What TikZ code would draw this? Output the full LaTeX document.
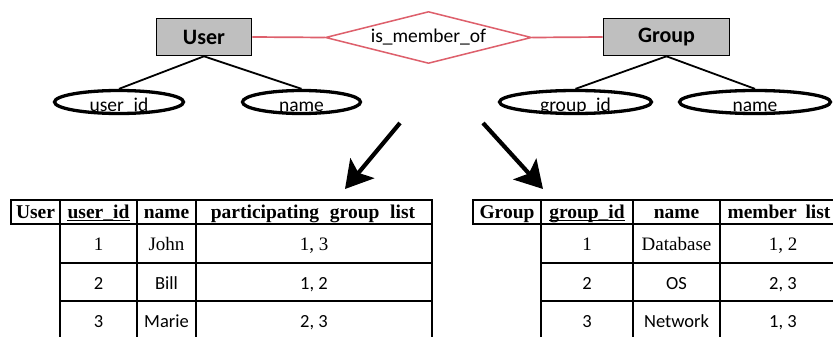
\documentclass[tikz,border=0pt]{standalone}
\usepackage{fontspec}
\setmainfont{Liberation Serif}
\newfontfamily\calfont{Carlito}
\usetikzlibrary{shapes.geometric,arrows.meta}
\definecolor{erred}{RGB}{222,96,108}
\definecolor{boxgray}{RGB}{191,191,191}
\begin{document}
\begin{tikzpicture}[x=1pt,y=-1pt,
  entity/.style={draw=black,line width=1.6pt,fill=boxgray,minimum height=37pt,inner sep=0pt,
    font=\calfont\fontsize{22}{24}\selectfont\bfseries},
  relation/.style={draw=erred,line width=1.5pt,diamond,shape aspect=3.9,inner sep=0pt,
    minimum width=206pt,minimum height=52pt,font=\calfont\fontsize{19.5}{22}\selectfont},
  attr/.style={draw=black,line width=3.3pt,ellipse,inner sep=0pt,minimum height=23pt},
  attrtext/.style={anchor=base,inner sep=0pt,font=\calfont\fontsize{19.5}{22}\selectfont},
  erline/.style={line width=1.8pt,draw=black},
  relline/.style={line width=1.7pt,draw=erred},
  bigarrow/.style={line width=4.2pt,-{Stealth[length=27pt,width=31pt,inset=6pt]}},
  grid/.style={line width=1.9pt},
  ul/.style={line width=1.3pt},
  hd/.style={anchor=base,inner sep=0pt,font=\fontsize{19.5}{22}\selectfont\bfseries},
  sr/.style={anchor=base,inner sep=0pt,font=\fontsize{19}{22}\selectfont},
  ss/.style={anchor=base,inner sep=0pt,font=\calfont\fontsize{18.5}{22}\selectfont}
]
\clip (0,0) rectangle (833,337);
\fill[white] (0,0) rectangle (833,337);

% ER part
\node[entity,minimum width=95pt] (user) at (204,37) {User};
\node[entity,minimum width=126pt] (group) at (666.5,37) {Group};
\node[relation] (rel) at (428.5,37.5) {is\_member\_of};
\draw[relline] (user.east) -- (rel.west);
\draw[relline] (rel.east) -- (group.west);

\node[attr,minimum width=129pt] (uid) at (119,102) {};
\node[attr,minimum width=118pt] (uname) at (301.5,102) {};
\node[attr,minimum width=152pt] (gid) at (575.5,102) {};
\node[attr,minimum width=151pt] (gname) at (755,102) {};
\node[attrtext] (uidt) at (119,111.5) {user\_id};
\node[attrtext] (unamet) at (301.5,111.5) {name};
\node[attrtext] (gidt) at (575.5,111.5) {group\_id};
\node[attrtext] (gnamet) at (755,111.5) {name};
\draw[erline] (user.south) -- (uid.north);
\draw[erline] (user.south) -- (uname.north);
\draw[erline] (group.south) -- (gid.north);
\draw[erline] (group.south) -- (gname.north);

% arrows
\coordinate (a1s) at (400,123);
\coordinate (a1e) at (345,189);
\coordinate (a2s) at (483,123);
\coordinate (a2e) at (543,189);
\draw[bigarrow] (a1s) -- (a1e);
\draw[bigarrow] (a2s) -- (a2e);

% left table
\draw[grid] (11,200) rectangle (432,224);
\draw[grid] (60,200) -- (60,345);
\draw[grid] (137,200) -- (137,345);
\draw[grid] (196,200) -- (196,345);
\draw[grid] (432,224) -- (432,345);
\draw[grid] (60,263) -- (432,263);
\draw[grid] (60,301) -- (432,301);

\node[hd] (h1) at (35.5,218) {User};
\node[hd] (h2) at (98.5,218) {user\_id};
\draw[ul] ([yshift=-2.5pt]h2.base west) -- ([yshift=-2.5pt]h2.base east);
\node[hd] (h3) at (166.5,218) {name};
\node[hd] (h4) at (313,218) {participating\hspace{.3em} group\hspace{.3em} list};

\node[sr] (l11) at (98.5,250) {1};
\node[sr] (l12) at (166.5,250) {John};
\node[sr] (l13) at (314,250) {1, 3};
\node[ss] (l21) at (98.5,289) {2};
\node[ss] (l22) at (166.5,289) {Bill};
\node[ss] (l23) at (314,289) {1, 2};
\node[ss] (l31) at (98.5,327) {3};
\node[ss] (l32) at (166.5,327) {Marie};
\node[ss] (l33) at (314,327) {2, 3};

% right table
\draw[grid] (473,200) rectangle (860,224);
\draw[grid] (541,200) -- (541,345);
\draw[grid] (633,200) -- (633,345);
\draw[grid] (720,200) -- (720,345);
\draw[grid] (541,263) -- (860,263);
\draw[grid] (541,301) -- (860,301);

\node[hd] (g1) at (507,218) {Group};
\node[hd] (g2) at (587,218) {group\_id};
\draw[ul] ([yshift=-2.5pt]g2.base west) -- ([yshift=-2.5pt]g2.base east);
\node[hd] (g3) at (676.5,218) {name};
\node[hd] (g4) at (779,218) {member\hspace{.2em} list};

\node[sr] (r11) at (587,250) {1};
\node[sr] (r12) at (676.5,250) {Database};
\node[sr] (r13) at (783,250) {1, 2};
\node[ss] (r21) at (587,289) {2};
\node[ss] (r22) at (676.5,289) {OS};
\node[ss] (r23) at (783,289) {2, 3};
\node[ss] (r31) at (587,327) {3};
\node[ss] (r32) at (676.5,327) {Network};
\node[ss] (r33) at (783,327) {1, 3};
\end{tikzpicture}
\end{document}
